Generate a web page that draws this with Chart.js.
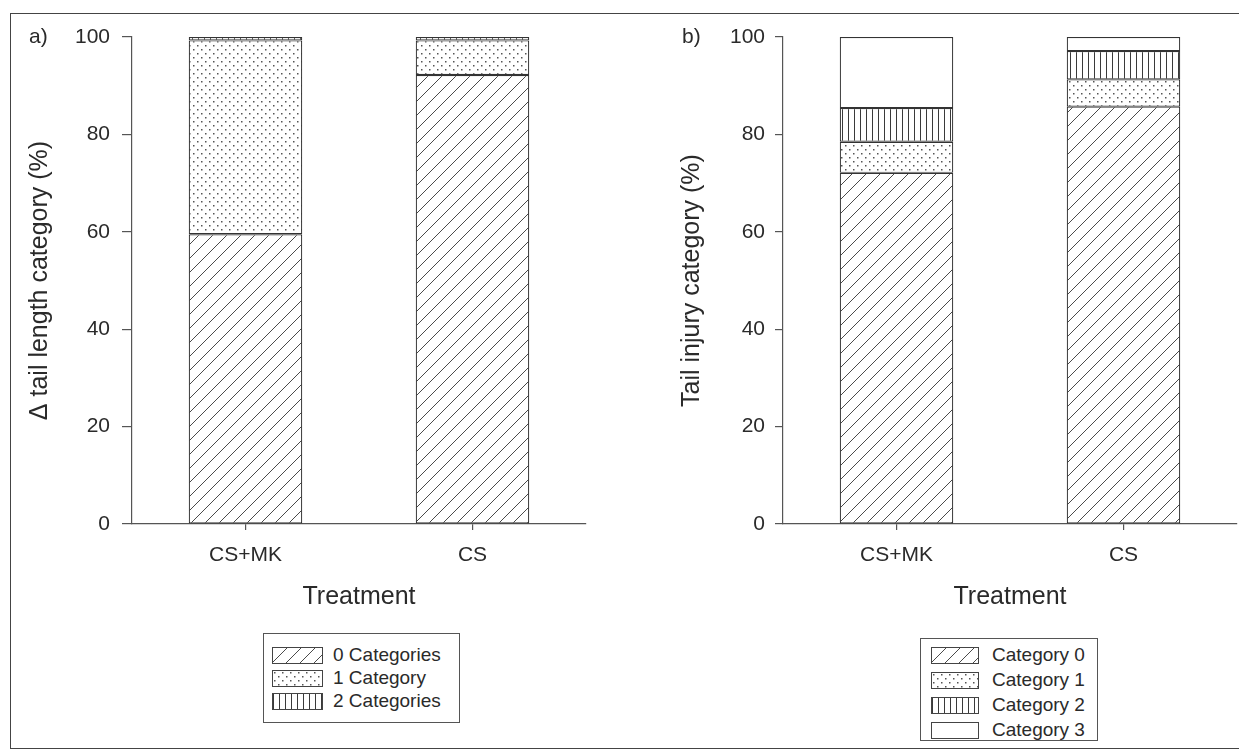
<!DOCTYPE html>
<html>
<head>
<meta charset="utf-8">
<script src="https://cdn.jsdelivr.net/npm/chart.js@4.4.1/dist/chart.umd.min.js"></script>
<style>
  body { margin: 0; background: #fff; font-family: "Liberation Sans", Arial, sans-serif; color: #2a2a2a; }
  #page { position: relative; width: 1239px; height: 751px; overflow: hidden; }
  #frame { position: absolute; left: 10px; top: 13px; width: 1240px; height: 736px; border: 1.5px solid #444; box-sizing: border-box; }
  .panel { position: absolute; top: 0; }
  .tag { position: absolute; font-size: 21px; }
  .legend { position: absolute; border: 1.5px solid #555; box-sizing: border-box; background: #fff; }
  .item { position: absolute; height: 16px; font-size: 19px; line-height: 16px; white-space: nowrap; }
  .item canvas { position: absolute; left: 0; top: 0; border: 1px solid #444; box-sizing: border-box; }
  .item span { position: absolute; top: 0; }
</style>
</head>
<body>
<div id="page">
  <div id="frame"></div>
  <div class="panel" style="left:0px"><canvas id="chartA"></canvas></div>
  <div class="panel" style="left:620px"><canvas id="chartB"></canvas></div>
  <div class="tag" style="left:29px; top:24px">a)</div>
  <div class="tag" style="left:682px; top:24px">b)</div>
  <div class="legend" id="legendA" style="left:263px; top:633px; width:197px; height:90px"></div>
  <div class="legend" id="legendB" style="left:920px; top:638px; width:178px; height:103px"></div>
</div>
<script>
// treatments
var treatments = ['CS+MK', 'CS'];

// panel a: change in tail length category (%)
var zeroCategories = [59.5, 92.2];
var oneCategory = [39.8, 7.1];
var twoCategories = [0.7, 0.7];

// panel b: tail injury category (%)
var category0 = [72.1, 85.7];
var category1 = [6.4, 5.6];
var category2 = [6.9, 5.8];
var category3 = [14.6, 2.9];

var yTicks = [0, 20, 40, 60, 80, 100];

Chart.defaults.font.family = '"Liberation Sans", Arial, sans-serif';
Chart.defaults.color = '#2a2a2a';
Chart.defaults.animation = false;

function tile(w, h, draw) {
    var c = document.createElement('canvas');
    c.width = w;
    c.height = h;
    var g = c.getContext('2d');
    g.fillStyle = '#fff';
    g.fillRect(0, 0, w, h);
    draw(g);
    return g.createPattern(c, 'repeat');
}

var hatch = tile(14, 14, function (g) {
    g.strokeStyle = '#4a4a4a';
    g.lineWidth = 1;
    g.beginPath();
    g.moveTo(0, 14); g.lineTo(14, 0);
    g.moveTo(-2, 2); g.lineTo(2, -2);
    g.moveTo(12, 16); g.lineTo(16, 12);
    g.stroke();
});
var dots = tile(8, 8, function (g) {
    g.fillStyle = '#555';
    g.fillRect(1, 1, 1.5, 1.5);
    g.fillRect(5, 5, 1.5, 1.5);
});
var vlines = tile(6, 6, function (g) {
    g.fillStyle = '#3a3a3a';
    g.fillRect(0, 0, 1, 6);
});
var blank = '#fff';

function ds(label, data, fill) {
    return {
        label: label,
        data: data,
        backgroundColor: fill,
        borderColor: '#333',
        borderWidth: 1.2,
        borderSkipped: false,
        barPercentage: 0.5,
        categoryPercentage: 1
    };
}

function makeChart(id, w, h, yWidth, padRight, yTitle, yTitlePad, yTickLen, yTickPad, datasets) {
    var canvas = document.getElementById(id);
    canvas.width = w;
    canvas.height = h;
    return new Chart(canvas, {
        type: 'bar',
        data: { labels: treatments, datasets: datasets },
        options: {
            responsive: false,
            layout: { padding: { left: 0, top: 37, right: padRight, bottom: 0 } },
            plugins: { legend: { display: false }, tooltip: { enabled: false } },
            scales: {
                x: {
                    stacked: true,
                    afterFit: function (s) { s.height = h - 524; },
                    grid: { display: true, drawOnChartArea: false, offset: false, tickLength: 6, color: '#555', lineWidth: 1.2 },
                    border: { display: true, color: '#555', width: 1.2 },
                    ticks: { font: { size: 21 }, color: '#2a2a2a', padding: 13 },
                    title: { display: true, text: 'Treatment', font: { size: 25 }, color: '#2a2a2a', padding: { top: 0, bottom: 13 } }
                },
                y: {
                    stacked: true,
                    min: 0,
                    max: 100,
                    afterFit: function (s) { s.width = yWidth; },
                    afterBuildTicks: function (s) { s.ticks = yTicks.map(function (v) { return { value: v }; }); },
                    grid: { display: true, drawOnChartArea: false, tickLength: yTickLen, color: '#555', lineWidth: 1.2 },
                    border: { display: true, color: '#555', width: 1.2 },
                    ticks: { font: { size: 21 }, color: '#2a2a2a', padding: yTickPad },
                    title: { display: true, text: yTitle, font: { size: 25 }, color: '#2a2a2a', padding: { top: yTitlePad, bottom: 0 } }
                }
            }
        }
    });
}

makeChart('chartA', 620, 625, 132, 34, 'Δ tail length category (%)', 25, 10, 12, [
    ds('0 Categories', zeroCategories, hatch),
    ds('1 Category', oneCategory, dots),
    ds('2 Categories', twoCategories, vlines)
]);

makeChart('chartB', 619, 625, 163, 2, 'Tail injury category (%)', 57, 8, 10, [
    ds('Category 0', category0, hatch),
    ds('Category 1', category1, dots),
    ds('Category 2', category2, vlines),
    ds('Category 3', category3, blank)
]);

function buildLegend(id, items, x0, y0, step, sw, textX) {
    var box = document.getElementById(id);
    items.forEach(function (it, i) {
        var row = document.createElement('div');
        row.className = 'item';
        row.style.left = x0 + 'px';
        row.style.top = (y0 + i * step) + 'px';
        var c = document.createElement('canvas');
        c.width = sw;
        c.height = 15;
        var g = c.getContext('2d');
        g.fillStyle = it[1];
        g.fillRect(0, 0, sw, 15);
        row.appendChild(c);
        var t = document.createElement('span');
        t.style.left = textX + 'px';
        t.textContent = it[0];
        row.appendChild(t);
        box.appendChild(row);
    });
}

buildLegend('legendA', [['0 Categories', hatch], ['1 Category', dots], ['2 Categories', vlines]], 8, 13, 23, 49, 61);
buildLegend('legendB', [['Category 0', hatch], ['Category 1', dots], ['Category 2', vlines], ['Category 3', blank]], 10, 8, 25, 46, 61);
</script>
</body>
</html>
